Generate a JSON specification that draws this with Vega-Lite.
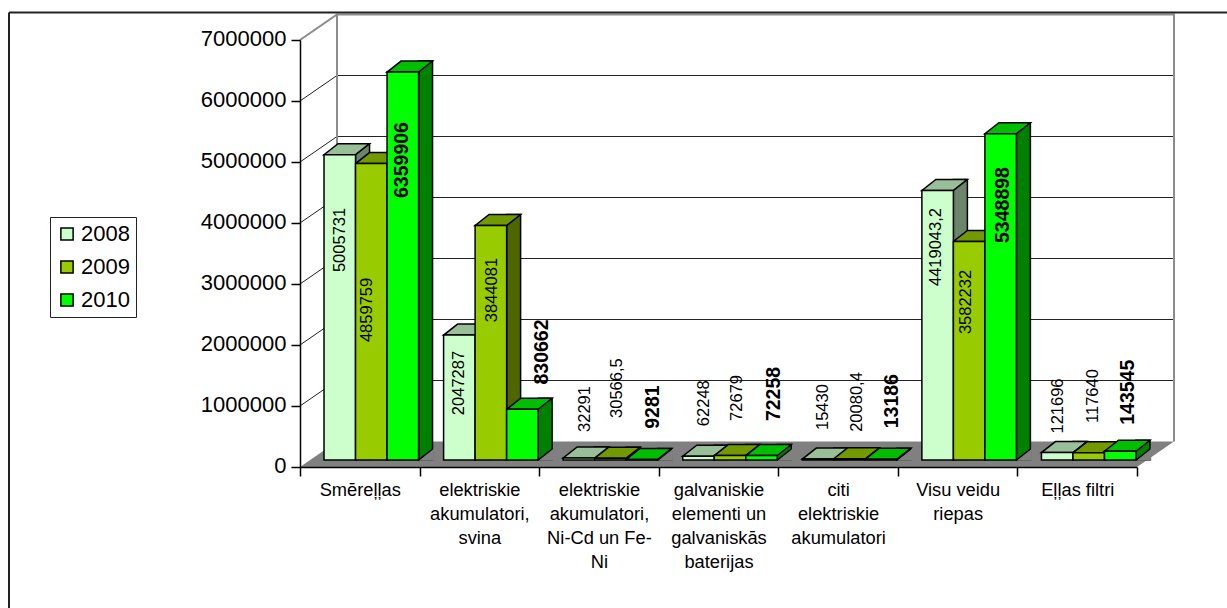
{
"$schema":"https://vega.github.io/schema/vega-lite/v6.json",
"width":837,"height":427,
"padding":{"left":300,"top":40,"right":90,"bottom":141},
"autosize":{"type":"none"},
"background":"white",
"config":{"view":{"stroke":null},"font":"Liberation Sans"},
"datasets":{"main":[
{"cat":"Smēreļļas","year":"2008","value":5005731,"label":"5005731"},
{"cat":"Smēreļļas","year":"2009","value":4859759,"label":"4859759"},
{"cat":"Smēreļļas","year":"2010","value":6359906,"label":"6359906"},
{"cat":"elektriskie\nakumulatori,\nsvina","year":"2008","value":2047287,"label":"2047287"},
{"cat":"elektriskie\nakumulatori,\nsvina","year":"2009","value":3844081,"label":"3844081"},
{"cat":"elektriskie\nakumulatori,\nsvina","year":"2010","value":830662,"label":"830662"},
{"cat":"elektriskie\nakumulatori,\nNi-Cd un Fe-\nNi","year":"2008","value":32291,"label":"32291"},
{"cat":"elektriskie\nakumulatori,\nNi-Cd un Fe-\nNi","year":"2009","value":30566.5,"label":"30566,5"},
{"cat":"elektriskie\nakumulatori,\nNi-Cd un Fe-\nNi","year":"2010","value":9281,"label":"9281"},
{"cat":"galvaniskie\nelementi un\ngalvaniskās\nbaterijas","year":"2008","value":62248,"label":"62248"},
{"cat":"galvaniskie\nelementi un\ngalvaniskās\nbaterijas","year":"2009","value":72679,"label":"72679"},
{"cat":"galvaniskie\nelementi un\ngalvaniskās\nbaterijas","year":"2010","value":72258,"label":"72258"},
{"cat":"citi\nelektriskie\nakumulatori","year":"2008","value":15430,"label":"15430"},
{"cat":"citi\nelektriskie\nakumulatori","year":"2009","value":20080.4,"label":"20080,4"},
{"cat":"citi\nelektriskie\nakumulatori","year":"2010","value":13186,"label":"13186"},
{"cat":"Visu veidu\nriepas","year":"2008","value":4419043.2,"label":"4419043,2"},
{"cat":"Visu veidu\nriepas","year":"2009","value":3582232,"label":"3582232"},
{"cat":"Visu veidu\nriepas","year":"2010","value":5348898,"label":"5348898"},
{"cat":"Eļļas filtri","year":"2008","value":121696,"label":"121696"},
{"cat":"Eļļas filtri","year":"2009","value":117640,"label":"117640"},
{"cat":"Eļļas filtri","year":"2010","value":143545,"label":"143545"}
]},
"data":{"name":"main"},
"encoding":{
"x":{"field":"cat","type":"nominal","title":null,
 "scale":{"type":"band","paddingInner":0,"paddingOuter":0,"domain":["Smēreļļas","elektriskie\nakumulatori,\nsvina","elektriskie\nakumulatori,\nNi-Cd un Fe-\nNi","galvaniskie\nelementi un\ngalvaniskās\nbaterijas","citi\nelektriskie\nakumulatori","Visu veidu\nriepas","Eļļas filtri"]},
 "axis":{"labelExpr":"split(datum.label,'\\n')","labelAngle":0,"labelAlign":"center","labelBaseline":"top","labelFontSize":18.3,"labelLineHeight":24,"labelColor":"#000","labelPadding":5,"labelLimit":200,"tickBand":"extent","tickColor":"#000","tickSize":9,"domainColor":"#000","domainWidth":1.5,"tickWidth":1.5,"zindex":1,"labelFont":"Liberation Sans"}},
"y":{"field":"value","type":"quantitative","title":null,
 "scale":{"domain":[0,7000000],"nice":false},
 "axis":{"values":[0,1000000,2000000,3000000,4000000,5000000,6000000,7000000],"format":"d","grid":false,"labelFontSize":22,"labelColor":"#000","labelPadding":5,"labelOffset":-2,"tickSize":9,"tickColor":"#000","domainColor":"#000","domainWidth":1.5,"tickWidth":1.5,"zindex":1,"labelFont":"Liberation Sans"}},
"xOffset":{"field":"year","type":"nominal","scale":{"paddingOuter":0.397,"paddingInner":0,"align":0.96}}
},
"layer":[
{"data":{"values":[{"cat":"Smēreļļas","tick":0}]},
 "mark":{"type":"point","shape":"M0 0L37 -25.5H874L837 0Z","size":4,"filled":true,"fill":"#808080","stroke":null,"opacity":1},
 "encoding":{"x":{"field":"cat","type":"nominal","bandPosition":0,"title":null},"xOffset":null,"y":{"field":"tick","type":"quantitative","title":null}}},
{"data":{"values":[{"cat":"Smēreļļas","tick":1000000},{"cat":"Smēreļļas","tick":2000000},{"cat":"Smēreļļas","tick":3000000},{"cat":"Smēreļļas","tick":4000000},{"cat":"Smēreļļas","tick":5000000},{"cat":"Smēreļļas","tick":6000000}]},
 "mark":{"type":"point","shape":"M0 0L37 -25.5H874","size":4,"filled":false,"stroke":"#222","strokeWidth":1,"opacity":1},
 "encoding":{"x":{"field":"cat","type":"nominal","bandPosition":0,"title":null},"xOffset":null,"y":{"field":"tick","type":"quantitative","title":null}}},
{"data":{"values":[{"cat":"Smēreļļas","tick":0}]},
 "mark":{"type":"point","shape":"M0 -427L37 -452.5H874V-25.5M37 -452.5V-25.5","size":4,"filled":false,"stroke":"#8c8c8c","strokeWidth":2,"opacity":1},
 "encoding":{"x":{"field":"cat","type":"nominal","bandPosition":0,"title":null},"xOffset":null,"y":{"field":"tick","type":"quantitative","title":null}}},
{"data":{"values":[{"cat":"Smēreļļas","tick":0}]},
 "mark":{"type":"point","shape":"M-291 -454.5H927M-291 -454.5V141","size":4,"filled":false,"stroke":"#222","strokeWidth":2,"opacity":1},
 "encoding":{"x":{"field":"cat","type":"nominal","bandPosition":0,"title":null},"xOffset":null,"y":{"field":"tick","type":"quantitative","title":null}}},
{"mark":{"type":"bar","width":14,"xOffset":{"expr":"2.75+31.5*indexof(['2008','2009','2010'],datum.year)"},"yOffset":-18,"y2Offset":-7,"stroke":"#000","strokeWidth":1.5},
 "encoding":{"xOffset":null,"fill":{"field":"year","type":"nominal","legend":null,"scale":{"domain":["2008","2009","2010"],"range":["#6b856b","#4d6600","#008000"]}},"y2":{"datum":0}}},
{"mark":{"type":"point","shape":"M15.75 -6.3L31 -6.3V-18.6Z","size":4,"filled":true,"fill":"#808080","stroke":null,"opacity":1},
 "encoding":{"y":{"datum":0}}},
{"mark":{"type":"point","shape":"M15.75 -7L29.75 -18","size":4,"filled":false,"stroke":"#000","strokeWidth":1.5,"opacity":1},
 "encoding":{"y":{"datum":0}}},
{"mark":{"type":"point","shape":"M-15.75 -7L15.75 -7L29.75 -18L-1.75 -18Z","size":4,"filled":true,"stroke":"#000","strokeWidth":1.5,"opacity":1},
 "encoding":{"fill":{"field":"year","type":"nominal","legend":null,"scale":{"domain":["2008","2009","2010"],"range":["#99bf99","#739900","#00bf00"]}}}},
{"mark":{"type":"bar","yOffset":-7,"y2Offset":-7,"stroke":"#000","strokeWidth":1.5},
 "encoding":{"y2":{"datum":0},"fill":{"field":"year","type":"nominal","scale":{"domain":["2008","2009","2010"],"range":["#ccffcc","#99cc00","#00ff00"]},
  "legend":{"orient":"none","legendX":-250,"legendY":177,"title":null,"symbolType":"square","symbolSize":150,"symbolStrokeColor":"#000","symbolStrokeWidth":1.5,"labelFontSize":22,"labelColor":"#000","labelFont":"Liberation Sans","strokeColor":"#222","fillColor":"#fff","padding":6,"rowPadding":11,"labelOffset":3,"symbolOpacity":1}}}},
{"mark":{"type":"text","angle":270,"align":"center","baseline":"middle","color":"#000",
  "yOffset":{"expr":"({'5005731':78.3,'4859759':139.4,'6359906':81,'2047287':40.9,'3844081':57.5,'830662':-64.3,'32291':-56,'30566,5':-77,'9281':-59.4,'62248':-60,'72679':-64.6,'72258':-68.6,'15430':-59,'20080,4':-63.8,'13186':-65,'4419043,2':49.6,'3582232':53.5,'5348898':64.3,'121696':-53.6,'117640':-63.8,'143545':-66})[datum.label]"},
  "dy":{"expr":"({'5005731':0.5,'4859759':-4,'6359906':-1,'2047287':0,'3844081':1,'830662':20,'32291':6.5,'30566,5':7,'9281':11,'62248':6,'72679':6.5,'72258':12,'15430':4.5,'20080,4':7,'13186':10.5,'4419043,2':-2,'3582232':-3,'5348898':2.5,'121696':0.5,'117640':4,'143545':7.5})[datum.label]"},
  "fontWeight":{"expr":"datum.year=='2010'?'bold':'normal'"}},
 "encoding":{"text":{"field":"label"},"size":{"condition":{"test":"datum.year=='2010'","value":19.5},"value":16.5}}}
],
"resolve":{"scale":{"fill":"independent"},"legend":{"fill":"independent"}}
}
